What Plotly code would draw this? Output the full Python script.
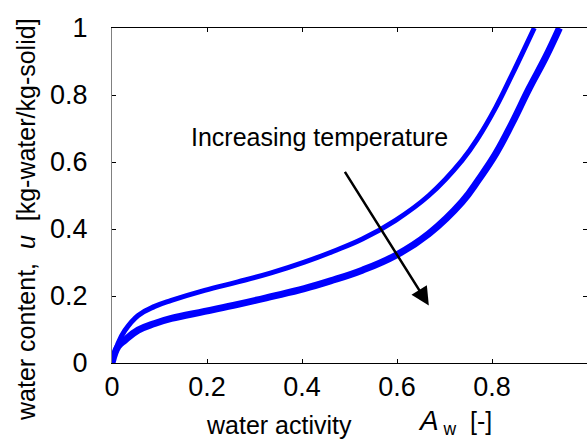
import plotly.graph_objects as go

# Sorption isotherms
aw_low_t = [0.0, 0.0126, 0.027, 0.055, 0.090, 0.125, 0.195, 0.265, 0.335, 0.405, 0.465,
            0.527, 0.597, 0.667, 0.737, 0.772, 0.808, 0.842, 0.871, 0.889]
u_low_t = [0.0, 0.058, 0.097, 0.142, 0.169, 0.187, 0.217, 0.242, 0.269, 0.301, 0.333,
           0.370, 0.426, 0.500, 0.605, 0.675, 0.763, 0.860, 0.946, 1.0]

aw_high_t = [0.0, 0.0126, 0.027, 0.055, 0.090, 0.125, 0.195, 0.265, 0.335, 0.405, 0.460,
             0.527, 0.597, 0.667, 0.737, 0.772, 0.808, 0.842, 0.878, 0.913, 0.942]
u_high_t = [0.0, 0.049, 0.068, 0.098, 0.118, 0.133, 0.154, 0.175, 0.198, 0.222, 0.245,
            0.277, 0.321, 0.386, 0.481, 0.548, 0.625, 0.715, 0.819, 0.913, 1.0]

tick_vals = [0, 0.2, 0.4, 0.6, 0.8, 1]
tick_text = ["0", "0.2", "0.4", "0.6", "0.8", "1"]

arrow_tail = (0.484, 0.585)
arrow_tip = (0.667, 0.172)
label_pos = (0.436, 0.674)

FONT = "Arial, Liberation Sans, sans-serif"

fig = go.Figure()
fig.add_trace(go.Scatter(x=aw_low_t, y=u_low_t, mode="lines",
                         line=dict(color="#0000ff", width=5, shape="spline", smoothing=1.2),
                         showlegend=False, hoverinfo="skip"))
fig.add_trace(go.Scatter(x=aw_high_t, y=u_high_t, mode="lines",
                         line=dict(color="#0000ff", width=7, shape="spline", smoothing=1.2),
                         showlegend=False, hoverinfo="skip"))

fig.add_annotation(x=label_pos[0], y=label_pos[1], xref="x", yref="y",
                   text="Increasing temperature", showarrow=False,
                   font=dict(family=FONT, size=25, color="black"),
                   xanchor="center", yanchor="middle")
fig.add_annotation(x=arrow_tip[0], y=arrow_tip[1], xref="x", yref="y",
                   ax=arrow_tail[0], ay=arrow_tail[1], axref="x", ayref="y",
                   text=" ", showarrow=True, arrowhead=2, arrowwidth=2.5,
                   arrowsize=1.45, arrowcolor="black")

# axis titles
fig.add_annotation(x=(204 - 112) / 475, y=-0.185, xref="paper", yref="paper",
                   text="water activity", showarrow=False,
                   font=dict(family=FONT, size=25, color="black"),
                   xanchor="left", yanchor="middle")
fig.add_annotation(x=(416 - 112) / 475, y=-0.175, xref="paper", yref="paper",
                   text="<span style='font-size:28px'><i>A</i></span><sub> w</sub>  [-]",
                   showarrow=False,
                   font=dict(family=FONT, size=25, color="black"),
                   xanchor="left", yanchor="middle")
fig.add_annotation(x=(26 - 112) / 475, y=(363 - 220) / 335, xref="paper", yref="paper",
                   text="water content,  <i>u</i>  [kg-water/kg-solid]", showarrow=False,
                   textangle=-90,
                   font=dict(family=FONT, size=25, color="black"),
                   xanchor="center", yanchor="middle")

fig.update_xaxes(range=[0, 1], tickvals=tick_vals, ticktext=tick_text,
                 ticks="inside", ticklen=4, tickcolor="black", tickwidth=1,
                 showline=True, linecolor="black", linewidth=1, mirror="ticks",
                 showgrid=False, zeroline=False,
                 tickfont=dict(family=FONT, size=27, color="black"))
fig.update_yaxes(range=[0, 1], tickvals=tick_vals, ticktext=tick_text,
                 ticks="inside", ticklen=4, tickcolor="black", tickwidth=1,
                 showline=True, linecolor="#808080", linewidth=1, mirror="ticks",
                 showgrid=False, zeroline=False, ticklabelstandoff=18,
                 tickfont=dict(family=FONT, size=27, color="black"))

fig.update_layout(width=587, height=441, autosize=False,
                  margin=dict(l=112, r=0, t=28, b=78, pad=0),
                  paper_bgcolor="white", plot_bgcolor="white")

fig.write_html("out.html")
